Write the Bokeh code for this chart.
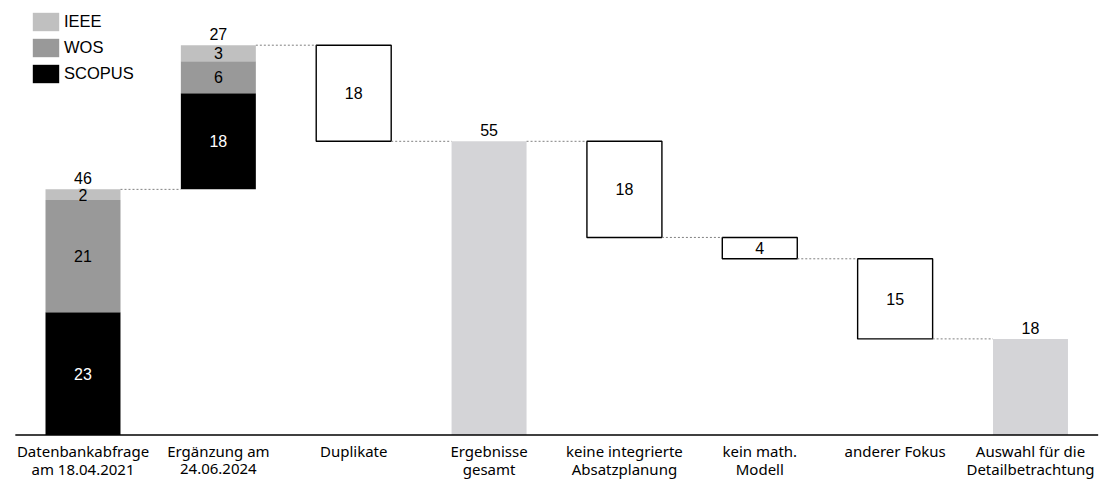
from bokeh.plotting import figure
from bokeh.models import Legend, LegendItem
from bokeh.core.properties import value
from bokeh.embed import file_html
from bokeh.resources import INLINE

cat_line1 = ["Datenbankabfrage", "Ergänzung am", "Duplikate", "Ergebnisse",
             "keine integrierte", "kein math.", "anderer Fokus", "Auswahl für die"]
cat_line2 = ["am 18.04.2021", "24.06.2024", "", "gesamt",
             "Absatzplanung", "Modell", "", "Detailbetrachtung"]
scopus = [23, 18]
wos = [21, 6]
ieee = [2, 3]
reductions = [18, 18, 4, 15]   # Duplikate, keine integrierte Absatzplanung, kein math. Modell, anderer Fokus
totals = [55, 18]              # Ergebnisse gesamt, Auswahl für die Detailbetrachtung

C_IEEE = "#c0c0c0"
C_WOS = "#999999"
C_SCOPUS = "#000000"
C_TOTAL = "#d4d4d7"
FONT = "Liberation Sans"
AXFONT = "Noto Sans"

n = len(cat_line1)
W = 0.554
p = figure(width=1107, height=480, output_backend="svg", toolbar_location=None,
           x_range=(-0.6095, 7.569), y_range=(-8.52, 81.37),
           min_border_left=0, min_border_right=0, min_border_top=0, min_border_bottom=0)
p.outline_line_color = None
p.grid.visible = False
p.axis.visible = False
p.background_fill_color = "white"

# stacked source bars
xs = [0, 1]
base = [0, scopus[0] + wos[0] + ieee[0]]
b_sc = base
t_sc = [b + s for b, s in zip(base, scopus)]
t_wo = [t + w for t, w in zip(t_sc, wos)]
t_ie = [t + i for t, i in zip(t_wo, ieee)]
r_sc = p.vbar(x=xs, width=W, bottom=b_sc, top=t_sc, fill_color=C_SCOPUS, line_color=None)
r_wo = p.vbar(x=xs, width=W, bottom=t_sc, top=t_wo, fill_color=C_WOS, line_color=None)
r_ie = p.vbar(x=xs, width=W, bottom=t_wo, top=t_ie, fill_color=C_IEEE, line_color=None)

lab_kw = dict(text_font=value(FONT), text_font_size="16px", text_align="center")
p.text(x=xs, y=[(b + t) / 2 for b, t in zip(b_sc, t_sc)], text=[str(v) for v in scopus],
       text_color="white", text_baseline="middle", **lab_kw)
p.text(x=xs, y=[(b + t) / 2 for b, t in zip(t_sc, t_wo)], text=[str(v) for v in wos],
       text_color="black", text_baseline="middle", **lab_kw)
p.text(x=xs, y=[(b + t) / 2 for b, t in zip(t_wo, t_ie)], text=[str(v) for v in ieee],
       text_color="black", text_baseline="middle", background_fill_color=C_IEEE, **lab_kw)
sums = [s + w + i for s, w, i in zip(scopus, wos, ieee)]
p.text(x=xs, y=t_ie, text=[str(v) for v in sums], text_color="black", text_baseline="bottom",
       y_offset=-5, **lab_kw)

# reduction boxes
level = t_ie[-1]
red_pos = [2, 4, 5, 6]
tot_pos = [3, 7]
rx, rb, rt = [], [], []
for i, pos in enumerate(red_pos):
    if pos == 4:
        level = totals[0]
    rt.append(level)
    rb.append(level - reductions[i])
    rx.append(pos)
    level -= reductions[i]
p.vbar(x=rx, width=W, bottom=rb, top=rt, fill_color="white", line_color="black", line_width=1.4)
p.text(x=rx, y=[(b + t) / 2 for b, t in zip(rb, rt)], text=[str(v) for v in reductions],
       text_color="black", text_baseline="middle", **lab_kw)

# totals
p.vbar(x=tot_pos, width=W, bottom=0, top=totals, fill_color=C_TOTAL, line_color=None)
p.text(x=tot_pos, y=totals, text=[str(v) for v in totals], text_color="black",
       text_baseline="bottom", y_offset=-5, **lab_kw)

# connectors
right_level = {0: t_ie[0], 1: t_ie[1], 3: totals[0]}
for x, b in zip(rx, rb):
    right_level[x] = b
x0s = [k + W / 2 for k in range(n - 1)]
x1s = [k + 1 - W / 2 for k in range(n - 1)]
ys = [right_level[k] for k in range(n - 1)]
p.segment(x0=x0s, y0=ys, x1=x1s, y1=ys, line_color="#808080", line_width=1, line_dash="2 2")

# baseline (category axis)
p.segment(x0=[-0.5], y0=[0], x1=[n - 0.5], y1=[0], line_color="black", line_width=1.4)

# category labels
ax_kw = dict(text_font=value(AXFONT), text_font_size="15px", text_align="center",
             text_baseline="middle", text_color="black")
p.text(x=list(range(n)), y=[0] * n, text=cat_line1, y_offset=16, **ax_kw)
p.text(x=list(range(n)), y=[0] * n, text=cat_line2, y_offset=33.5, **ax_kw)

legend = Legend(items=[LegendItem(label="IEEE", renderers=[r_ie]),
                       LegendItem(label="WOS", renderers=[r_wo]),
                       LegendItem(label="SCOPUS", renderers=[r_sc])],
                location=(29, 395), glyph_width=33, glyph_height=23, label_height=23,
                spacing=3, padding=2, margin=0, border_line_color=None,
                background_fill_alpha=0, label_text_font=FONT, label_text_color="black",
                label_text_font_size="16.5px", label_standoff=2)
p.add_layout(legend, "center")

open("out.html", "w").write(file_html(p, INLINE))
